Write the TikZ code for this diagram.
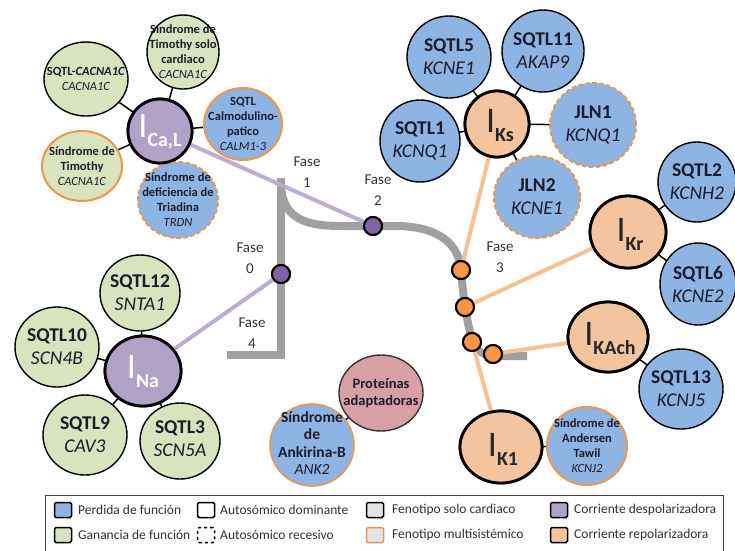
\documentclass[tikz,border=0pt]{standalone}
\usepackage{fontspec}
\setmainfont{Carlito}
\usetikzlibrary{shapes.geometric}

\definecolor{lossblue}{RGB}{142,180,227}
\definecolor{gaingreen}{RGB}{215,228,189}
\definecolor{depurple}{RGB}{178,161,199}
\definecolor{reporange}{RGB}{244,196,158}
\definecolor{adapink}{RGB}{214,160,166}
\definecolor{multiorange}{RGB}{236,150,80}
\definecolor{dotpurple}{RGB}{128,100,162}
\definecolor{dotorange}{RGB}{247,150,70}
\definecolor{apgrey}{RGB}{160,160,160}
\definecolor{deplinec}{RGB}{190,172,212}
\definecolor{replinec}{RGB}{250,192,144}
\definecolor{inktext}{RGB}{28,28,44}
\definecolor{legtextc}{RGB}{50,50,50}
\definecolor{cardgrey}{RGB}{228,228,228}

% big "I" with a lowered subscript for the ionic currents
\newcommand{\curlabel}[1]{{\fontsize{36}{36}\selectfont I}{\fontsize{20}{20}\selectfont\bfseries\raisebox{-9pt}{#1}}}

\tikzset{
  sat/.style={ellipse, draw=black, line width=1.4pt, inner sep=0pt},
  multi/.style={draw=multiorange, line width=2pt},
  recessive/.style={dash pattern=on 4.5pt off 2.5pt},
  hub/.style={ellipse, draw=black, line width=2.8pt, inner sep=0pt},
  tick/.style={draw=black, line width=1.5pt},
  apline/.style={draw=apgrey, line width=8pt},
  depline/.style={draw=deplinec, line width=4pt},
  repline/.style={draw=replinec, line width=4pt},
  pdot/.style={circle, draw=black, line width=2pt, fill=dotpurple, minimum size=18pt, inner sep=0pt},
  odot/.style={circle, draw=black, line width=2pt, fill=dotorange, minimum size=18pt, inner sep=0pt},
  big/.style={align=center, inner sep=0pt, text=inktext, font=\fontsize{19.5}{23}\selectfont},
  small/.style={align=center, inner sep=0pt, text=inktext, font=\fontsize{12.5}{15}\selectfont},
  mid/.style={align=center, inner sep=0pt, text=inktext, font=\fontsize{15.5}{17.5}\selectfont},
  fase/.style={align=center, inner sep=0pt, text=black!80, font=\fontsize{15}{20.5}\selectfont},
  swatch/.style={rectangle, rounded corners=1.5pt, draw=black, line width=1.5pt, minimum width=17pt, minimum height=15pt, inner sep=0pt},
  legtxt/.style={anchor=west, inner sep=0pt, text=legtextc, font=\fontsize{13.5}{15}\selectfont},
}

\begin{document}
\begin{tikzpicture}[x=1pt,y=-1pt]
\useasboundingbox (0,0) rectangle (735,550);

% ---------- action potential ----------
\draw[apline] (227,355) -- (281,355) -- (281,178);
\draw[apline] (281,186) .. controls (283,215) and (300,226) .. (340,226) -- (395,226)
  .. controls (440,226) and (459,245) .. (461,270)
  .. controls (463,295) and (467,325) .. (473,342)
  .. controls (477,352) and (485,356) .. (497,356) -- (527,356);

% phase markers on the curve
\node[pdot] (d0) at (281,274) {};
\node[pdot] (d2) at (373,226) {};
\node[odot] (d3a) at (461,270) {};
\node[odot] (d3b) at (465,307) {};
\node[odot] (d3c) at (472,342) {};
\node[odot] (d3d) at (493,354) {};

% ---------- current hubs ----------
\node[hub, fill=depurple, minimum width=64pt, minimum height=64pt] (ica) at (160,131) {};
\node[hub, fill=depurple, minimum width=76pt, minimum height=70pt] (ina) at (143,371) {};
\node[hub, fill=reporange, minimum width=64pt, minimum height=66pt] (iks) at (497,124) {};
\node[hub, fill=reporange, minimum width=76pt, minimum height=72pt] (ikr) at (628,232) {};
\node[hub, fill=reporange, minimum width=80pt, minimum height=70pt] (ikach) at (608,337) {};
\node[hub, fill=reporange, minimum width=82pt, minimum height=72pt] (ik1) at (501,447) {};

% ---------- coloured links from currents to phases ----------
\draw[depline] (ica) -- (d2);
\draw[depline] (ina) -- (d0);
\draw[repline] (iks) -- (d3a);
\draw[repline] (ikr) -- (d3b);
\draw[repline] (ik1) -- (d3c);
\draw[repline] (ikach) -- (d3d);
% redraw markers on top of the links
\node[pdot] (d0b) at (d0) {};
\node[pdot] (d2b) at (d2) {};
\node[odot] (d3ab) at (d3a) {};
\node[odot] (d3bb) at (d3b) {};
\node[odot] (d3cb) at (d3c) {};
\node[odot] (d3db) at (d3d) {};

% ---------- syndrome circles (shapes) ----------
\coordinate (cCAC) at (86,79);
\coordinate (cTSC) at (183,52);
\coordinate (cCALM) at (243,124);
\coordinate (cTIM) at (82,166);
\coordinate (cTRD) at (178,200);
\coordinate (cS12) at (140,293);
\coordinate (cS10) at (57,347);
\coordinate (cS9) at (85,435);
\coordinate (cS3) at (180,441);
\coordinate (cS5) at (449,57);
\coordinate (cS11) at (543,51);
\coordinate (cS1) at (420,141);
\coordinate (cJ1) at (593,125);
\coordinate (cJ2) at (537,197);
\coordinate (cS2) at (697,182);
\coordinate (cS6) at (698,284);
\coordinate (cS13) at (681,389);
\coordinate (cAND) at (587,446);
\coordinate (cPRO) at (381,393);
\coordinate (cANK) at (312,445);

% black ties between the syndromes and their currents
\foreach \s in {cCAC,cTSC,cCALM,cTIM,cTRD} \draw[tick] (ica.center) -- (\s);
\foreach \s in {cS12,cS10,cS9,cS3} \draw[tick] (ina.center) -- (\s);
\foreach \s in {cS5,cS11,cS1,cJ1,cJ2} \draw[tick] (iks.center) -- (\s);
\foreach \s in {cS2,cS6} \draw[tick] (ikr.center) -- (\s);
\draw[tick] (ikach.center) -- (cS13);
\draw[tick] (ik1.center) -- (cAND);
\draw[tick] (cPRO) -- (cANK);

\node[sat, fill=gaingreen, minimum width=84pt, minimum height=74pt] (CAC) at (cCAC) {};
\node[sat, fill=gaingreen, minimum width=72pt, minimum height=74pt] (TSC) at (cTSC) {};
\node[sat, fill=lossblue, multi, minimum width=78pt, minimum height=72pt] (CALM) at (cCALM) {};
\node[sat, fill=gaingreen, multi, minimum width=80pt, minimum height=70pt] (TIM) at (cTIM) {};
\node[sat, fill=lossblue, multi, recessive, minimum width=80pt, minimum height=76pt] (TRD) at (cTRD) {};
\node[sat, fill=gaingreen, minimum width=80pt, minimum height=76pt] (S12) at (cS12) {};
\node[sat, fill=gaingreen, minimum width=84pt, minimum height=80pt] (S10) at (cS10) {};
\node[sat, fill=gaingreen, minimum width=84pt, minimum height=80pt] (S9) at (cS9) {};
\node[sat, fill=gaingreen, minimum width=80pt, minimum height=76pt] (S3) at (cS3) {};
\node[sat, fill=lossblue, minimum width=84pt, minimum height=82pt] (S5) at (cS5) {};
\node[sat, fill=lossblue, minimum width=82pt, minimum height=82pt] (S11) at (cS11) {};
\node[sat, fill=lossblue, minimum width=80pt, minimum height=82pt] (S1) at (cS1) {};
\node[sat, fill=lossblue, multi, recessive, minimum width=86pt, minimum height=84pt] (J1) at (cJ1) {};
\node[sat, fill=lossblue, multi, recessive, minimum width=86pt, minimum height=82pt] (J2) at (cJ2) {};
\node[sat, fill=lossblue, minimum width=78pt, minimum height=80pt] (S2) at (cS2) {};
\node[sat, fill=lossblue, minimum width=76pt, minimum height=82pt] (S6) at (cS6) {};
\node[sat, fill=lossblue, minimum width=84pt, minimum height=80pt] (S13) at (cS13) {};
\node[sat, fill=lossblue, multi, minimum width=80pt, minimum height=78pt] (AND) at (cAND) {};
\node[sat, fill=adapink, draw=black!80, minimum width=84pt, minimum height=76pt] (PRO) at (cPRO) {};
\node[sat, fill=lossblue, multi, line width=1.6pt, minimum width=84pt, minimum height=82pt] (ANK) at (cANK) {};

% hubs again on top of their ties
\node[hub, fill=depurple, minimum width=64pt, minimum height=64pt] (icaT) at (ica) {};
\node[hub, fill=depurple, minimum width=76pt, minimum height=70pt] (inaT) at (ina) {};
\node[hub, fill=reporange, minimum width=64pt, minimum height=66pt] (iksT) at (iks) {};
\node[hub, fill=reporange, minimum width=76pt, minimum height=72pt] (ikrT) at (ikr) {};
\node[hub, fill=reporange, minimum width=80pt, minimum height=70pt] (ikachT) at (ikach) {};
\node[hub, fill=reporange, minimum width=82pt, minimum height=72pt] (ik1T) at (ik1) {};

% ---------- hub labels ----------
\node[inner sep=0pt, text=white] (icaL) at ([yshift=-1pt]ica) {\curlabel{Ca,L}};
\node[inner sep=0pt, text=white] (inaL) at ([yshift=-1pt]ina) {\curlabel{Na}};
\node[inner sep=0pt, text=black!85] (iksL) at ([xshift=3pt,yshift=-2pt]iks) {\curlabel{Ks}};
\node[inner sep=0pt, text=black!85] (ikrL) at ([xshift=2pt,yshift=-2pt]ikr) {\curlabel{Kr}};
\node[inner sep=0pt, text=black!85] (ikachL) at ([xshift=2pt,yshift=-2pt]ikach) {\curlabel{KAch}};
\node[inner sep=0pt, text=black!85] (ik1L) at ([xshift=2pt,yshift=-2pt]ik1) {\curlabel{K1}};

% ---------- syndrome texts ----------
\node[small] (tCAC) at (CAC) {\bfseries SQTL-\textit{CACNA1C}\\\textit{CACNA1C}};
\node[small] (tTSC) at (TSC) {\bfseries Síndrome de\\\bfseries Timothy solo\\\bfseries cardiaco\\\textit{CACNA1C}};
\node[small] (tCALM) at (CALM) {\bfseries SQTL\\\bfseries Calmodulino-\\\bfseries patico\\\textit{CALM1-3}};
\node[small] (tTIM) at (TIM) {\bfseries Síndrome de\\\bfseries Timothy\\\textit{CACNA1C}};
\node[small] (tTRD) at (TRD) {\bfseries Síndrome de\\\bfseries deficiencia de\\\bfseries Triadina\\\textit{TRDN}};
\node[big] (tS12) at (S12) {\bfseries SQTL12\\\textit{SNTA1}};
\node[big] (tS10) at (S10) {\bfseries SQTL10\\\textit{SCN4B}};
\node[big] (tS9) at (S9) {\bfseries SQTL9\\\textit{CAV3}};
\node[big] (tS3) at ([yshift=2pt]S3) {\bfseries SQTL3\\\textit{SCN5A}};
\node[big] (tS5) at (S5) {\bfseries SQTL5\\\textit{KCNE1}};
\node[big] (tS11) at (S11) {\bfseries SQTL11\\\textit{AKAP9}};
\node[big] (tS1) at (S1) {\bfseries SQTL1\\\textit{KCNQ1}};
\node[big] (tJ1) at (J1) {\bfseries JLN1\\\textit{KCNQ1}};
\node[big] (tJ2) at (J2) {\bfseries JLN2\\\textit{KCNE1}};
\node[big] (tS2) at (S2) {\bfseries SQTL2\\\textit{KCNH2}};
\node[big] (tS6) at (S6) {\bfseries SQTL6\\\textit{KCNE2}};
\node[big] (tS13) at (S13) {\bfseries SQTL13\\\textit{KCNJ5}};
\node[small] (tAND) at (AND) {\bfseries Síndrome de\\\bfseries Andersen\\\bfseries Tawil\\\textit{KCNJ2}};
\node[mid, font=\fontsize{14.5}{17}\selectfont] (tPRO) at (PRO) {\bfseries Proteínas\\\bfseries adaptadoras};
\node[mid] (tANK) at ([yshift=2pt]ANK) {\bfseries Síndrome\\\bfseries de\\\bfseries Ankirina-B\\\textit{ANK2}};

% ---------- phase labels ----------
\node[fase] (f1) at (307,172) {Fase\\1};
\node[fase] (f2) at (378,190) {Fase\\2};
\node[fase] (f0) at (250,258) {Fase\\0};
\node[fase] (f4) at (252,333) {Fase\\4};
\node[fase] (f3) at (500,257) {Fase\\3};

% ---------- legend ----------
\draw[draw=black!75, line width=1pt] (45,560) -- (45,495) -- (723,495) -- (723,560);
\node[swatch, fill=lossblue] (k1) at (63,510) {};
\node[legtxt] (l1) at (78,510) {Perdida de función};
\node[swatch, fill=gaingreen] (k2) at (63,535) {};
\node[legtxt] (l2) at (78,535) {Ganancia de función};
\node[swatch, fill=white] (k3) at (206,510) {};
\node[legtxt] (l3) at (220,510) {Autosómico dominante};
\node[swatch, fill=white, dashed] (k4) at (206,535) {};
\node[legtxt] (l4) at (220,535) {Autosómico recesivo};
\node[swatch, fill=cardgrey] (k5) at (375,510) {};
\node[legtxt] (l5) at (392,510) {Fenotipo solo cardiaco};
\node[swatch, fill=cardgrey, draw=multiorange] (k6) at (375,535) {};
\node[legtxt] (l6) at (392,535) {Fenotipo multisistémico};
\node[swatch, fill=depurple] (k7) at (559,510) {};
\node[legtxt] (l7) at (574,510) {Corriente despolarizadora};
\node[swatch, fill=reporange] (k8) at (559,535) {};
\node[legtxt] (l8) at (574,535) {Corriente repolarizadora};
\end{tikzpicture}
\end{document}
